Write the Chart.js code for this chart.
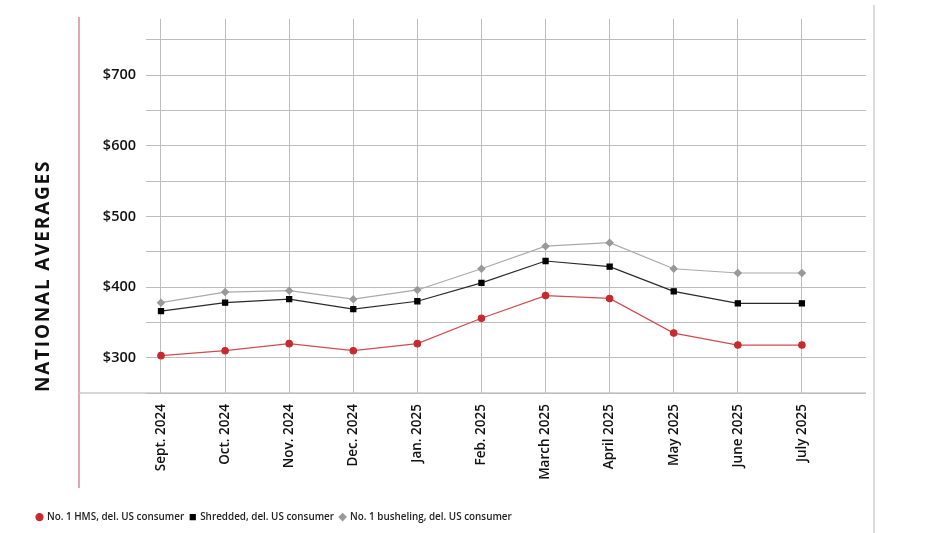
<!DOCTYPE html>
<html>
<head>
<meta charset="utf-8">
<script src="https://cdn.jsdelivr.net/npm/chart.js@4.4.1/dist/chart.umd.min.js"></script>
<style>
  html, body { margin: 0; padding: 0; background: #fff; }
  #wrap { width: 948px; height: 533px; position: relative; }
</style>
</head>
<body>
<div id="wrap"><canvas id="chart" width="948" height="533"></canvas></div>
<script>
// monthly national averages, $ per gross ton
const months = ['Sept. 2024', 'Oct. 2024', 'Nov. 2024', 'Dec. 2024', 'Jan. 2025', 'Feb. 2025',
                'March 2025', 'April 2025', 'May 2025', 'June 2025', 'July 2025'];
const hms       = [303, 310, 320, 310, 320, 356, 388, 384, 335, 318, 318];
const shredded  = [366, 378, 383, 369, 380, 406, 437, 429, 394, 377, 377];
const busheling = [378, 393, 395, 383, 396, 426, 458, 463, 426, 420, 420];
const yTicks = [250, 300, 350, 400, 450, 500, 550, 600, 650, 700, 750];
const yLabelled = [300, 400, 500, 600, 700];

const FONT = "'Open Sans', 'Noto Sans', sans-serif";

const pts = (arr) => arr.map((v, i) => ({ x: i, y: v }));

// frame lines + rotated side title
const decor = {
  id: 'decor',
  beforeDraw(chart) {
    const { ctx, chartArea: a } = chart;
    ctx.save();
    ctx.lineWidth = 1.5;
    ctx.strokeStyle = '#d98a90';
    ctx.beginPath(); ctx.moveTo(79, 17); ctx.lineTo(79, 488); ctx.stroke();
    ctx.strokeStyle = '#c4c4c4';
    ctx.lineWidth = 1.2;
    ctx.beginPath(); ctx.moveTo(874, 5); ctx.lineTo(874, 533); ctx.stroke();
    ctx.strokeStyle = '#c8c8c8';
    ctx.lineWidth = 1.5;
    ctx.beginPath(); ctx.moveTo(79, a.bottom); ctx.lineTo(a.right, a.bottom); ctx.stroke();
    ctx.restore();
  },
  afterDraw(chart) {
    const { ctx, chartArea: a } = chart;
    ctx.save();
    ctx.translate(49, a.bottom - 1);
    ctx.rotate(-Math.PI / 2);
    ctx.font = `700 19px ${FONT}`;
    ctx.letterSpacing = '1.8px';
    ctx.fillStyle = '#111';
    ctx.textAlign = 'left';
    ctx.textBaseline = 'alphabetic';
    ctx.fillText('NATIONAL AVERAGES', 0, 0);
    ctx.restore();
  }
};

new Chart(document.getElementById('chart'), {
  type: 'line',
  data: {
    datasets: [
      {
        label: 'No. 1 HMS, del. US consumer',
        data: pts(hms),
        borderColor: '#d24b4f', backgroundColor: '#c62a2f',
        pointBackgroundColor: '#c62a2f', pointBorderColor: '#c62a2f',
        borderWidth: 1.2, pointStyle: 'circle', pointRadius: 3.2, tension: 0,
      },
      {
        label: 'Shredded, del. US consumer',
        data: pts(shredded),
        borderColor: '#2a2a2a', backgroundColor: '#000',
        pointBackgroundColor: '#000', pointBorderColor: '#000',
        borderWidth: 1.2, pointStyle: 'rect', pointRadius: 3.6, tension: 0,
      },
      {
        label: 'No. 1 busheling, del. US consumer',
        data: pts(busheling),
        borderColor: '#aaaaaa', backgroundColor: '#999',
        pointBackgroundColor: '#999', pointBorderColor: '#999',
        borderWidth: 1.2, pointStyle: 'rectRot', pointRadius: 3.4, tension: 0,
      },
    ],
  },
  options: {
    responsive: false,
    animation: false,
    devicePixelRatio: 1,
    layout: { padding: { left: 31, right: 82, top: 15, bottom: 1 } },
    plugins: {
      tooltip: { enabled: false },
      legend: {
        position: 'bottom',
        align: 'start',
        labels: {
          usePointStyle: true,
          boxWidth: 5, boxHeight: 5,
          padding: 6,
          color: '#222',
          font: { family: FONT, size: 9.9, weight: '600' },
        },
      },
    },
    scales: {
      x: {
        type: 'linear',
        min: -0.234, max: 11,
        afterBuildTicks: (s) => { s.ticks = months.map((_, i) => ({ value: i })); },
        afterFit: (s) => { s.height = 113; },
        grid: { color: '#bdbdbd', lineWidth: 1, drawTicks: false },
        border: { display: false },
        ticks: {
          autoSkip: false, minRotation: 90, maxRotation: 90, padding: 11,
          color: '#111', font: { family: FONT, size: 13.5, weight: '600' },
          callback: (v) => months[v] ?? '',
        },
      },
      y: {
        min: 250, max: 780,
        afterBuildTicks: (s) => { s.ticks = yTicks.map(v => ({ value: v })); },
        afterFit: (s) => { s.width = 115; },
        grid: { color: '#bdbdbd', lineWidth: 1, drawTicks: false },
        border: { display: false },
        ticks: {
          padding: 10,
          color: '#111', font: { family: FONT, size: 14.5, weight: '600' },
          callback: (v) => yLabelled.includes(v) ? '$' + v : '',
        },
      },
    },
  },
  plugins: [decor],
});
</script>
</body>
</html>
